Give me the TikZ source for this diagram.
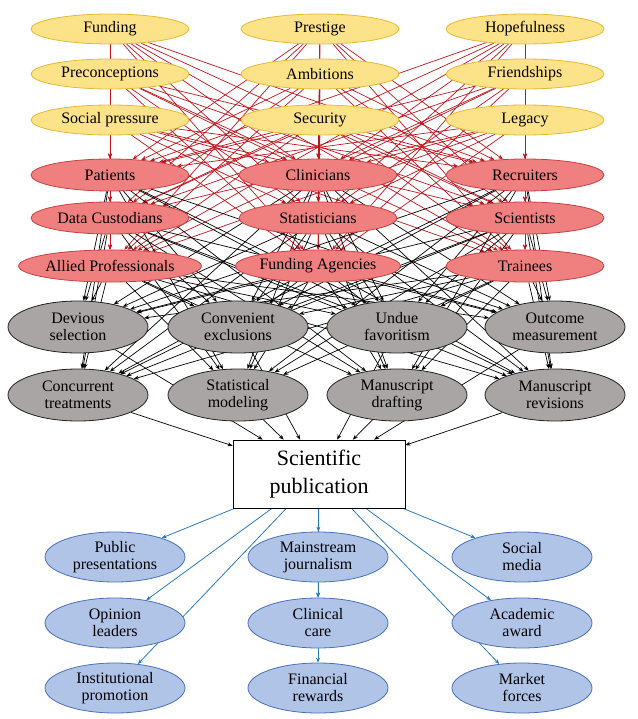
\documentclass[tikz,border=0pt]{standalone}
\usepackage{fontspec}
\setmainfont{Liberation Serif}
\newfontfamily\myserif{Liberation Serif}
\usetikzlibrary{shapes.geometric,backgrounds,arrows.meta}
\definecolor{yfill}{HTML}{FCE38A}\definecolor{ydraw}{HTML}{E8B830}
\definecolor{rfill}{HTML}{F08080}\definecolor{rdraw}{HTML}{C84040}
\definecolor{gfill}{HTML}{A9A5A5}\definecolor{gdraw}{HTML}{202020}
\definecolor{bfill}{HTML}{B0C4E8}\definecolor{bdraw}{HTML}{4A70B8}
\definecolor{redge}{HTML}{C0141C}\definecolor{bedge}{HTML}{2A7AB8}
\tikzset{
 ell/.style={ellipse,inner sep=0pt,line width=0.8pt,font=\myserif\fontsize{16}{17}\selectfont,align=center},
 ynode/.style={ell,fill=yfill,draw=ydraw,minimum width=158pt,minimum height=30pt},
 rnode/.style={ell,fill=rfill,draw=rdraw,minimum width=158pt,minimum height=32pt},
 gnode/.style={ell,fill=gfill,draw=gdraw,minimum width=140pt,minimum height=52pt},
 bnode/.style={ell,fill=bfill,draw=bdraw,minimum width=140pt,minimum height=50pt},
 redg/.style={draw=redge,line width=0.7pt,-{Stealth[length=5pt,width=4pt]}},
 kedg/.style={draw=black,line width=0.7pt,-{Stealth[length=5pt,width=4pt]}},
 bedg/.style={draw=bedge,line width=0.8pt,-{Stealth[length=5pt,width=4pt]}},
}
\begin{document}
\begin{tikzpicture}[x=1pt,y=-1pt]
\useasboundingbox (0,0) rectangle (637,719);
% yellow
\node[ynode] (y1) at (110,29) {Funding};
\node[ynode] (y2) at (320,29) {Prestige};
\node[ynode] (y3) at (525,29) {Hopefulness};
\node[ynode] (y4) at (110,74) {Preconceptions};
\node[ynode] (y5) at (320,74) {Ambitions};
\node[ynode] (y6) at (525,74) {Friendships};
\node[ynode] (y7) at (110,120) {Social pressure};
\node[ynode] (y8) at (320,120) {Security};
\node[ynode] (y9) at (525,120) {Legacy};
% red
\node[rnode] (r1) at (110,175) {Patients};
\node[rnode] (r2) at (318,175) {Clinicians};
\node[rnode] (r3) at (525,175) {Recruiters};
\node[rnode] (r4) at (110,218) {Data Custodians};
\node[rnode] (r5) at (318,218) {Statisticians};
\node[rnode] (r6) at (525,218) {Scientists};
\node[rnode] (r7) at (110,266) {Allied Professionals};
\node[rnode] (r8) at (318,266) {Funding Agencies};
\node[rnode] (r9) at (525,266) {Trainees};
% grey
\node[gnode] (g1) at (78,327) {Devious\\selection};
\node[gnode] (g2) at (238,327) {Convenient\\exclusions};
\node[gnode] (g3) at (397,327) {Undue\\favoritism};
\node[gnode] (g4) at (555,327) {Outcome\\measurement};
\node[gnode] (g5) at (78,395) {Concurrent\\treatments};
\node[gnode] (g6) at (238,395) {Statistical\\modeling};
\node[gnode] (g7) at (397,395) {Manuscript\\drafting};
\node[gnode] (g8) at (555,395) {Manuscript\\revisions};
% box
\node[draw,line width=0.8pt,minimum width=172pt,minimum height=68pt,align=center,font=\myserif\fontsize{22}{28}\selectfont] (pub) at (319,474) {Scientific\\publication};
% blue
\node[bnode] (b1) at (115,557) {Public\\presentations};
\node[bnode] (b2) at (318,557) {Mainstream\\journalism};
\node[bnode] (b3) at (522,557) {Social\\media};
\node[bnode] (b4) at (115,623) {Opinion\\leaders};
\node[bnode] (b5) at (318,623) {Clinical\\care};
\node[bnode] (b6) at (522,623) {Academic\\award};
\node[bnode] (b7) at (115,688) {Institutional\\promotion};
\node[bnode] (b8) at (318,688) {Financial\\rewards};
\node[bnode] (b9) at (522,688) {Market\\forces};
\begin{pgfonlayer}{background}
\foreach \i in {1,...,9}{\foreach \j in {1,...,9}{\draw[redg] (y\i) -- (r\j);}}
\foreach \i in {1,...,9}{\foreach \j in {1,...,8}{\draw[kedg] (r\i) -- (g\j);}}
\foreach \j in {1,...,8}{\draw[kedg] (g\j) -- (pub);}
\foreach \j in {1,2,3,4,5,6,7,9}{\draw[bedg] (pub) -- (b\j);}
\draw[bedg] (b2) -- (b5);
\draw[bedg] (b5) -- (b8);
\end{pgfonlayer}
\end{tikzpicture}
\end{document}
